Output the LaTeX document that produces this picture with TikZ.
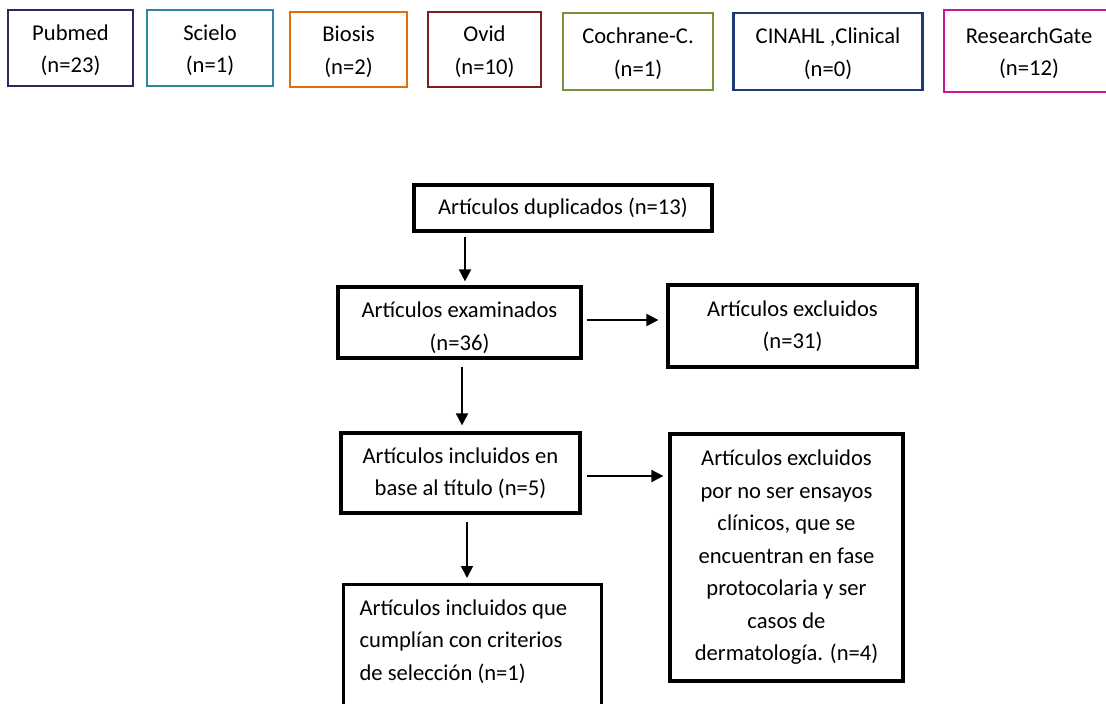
\documentclass[tikz,border=0pt]{standalone}
\usepackage{fontspec}
\setmainfont{Carlito}
\usetikzlibrary{arrows.meta}
\definecolor{pubcol}{HTML}{3B2160}
\definecolor{sciecol}{HTML}{31859C}
\definecolor{biocol}{HTML}{E46C0A}
\definecolor{ovidcol}{HTML}{7A1E1E}
\definecolor{cochcol}{HTML}{77933C}
\definecolor{cinacol}{HTML}{1F3B73}
\definecolor{rgcol}{HTML}{C8169B}
\tikzset{source node/.style={rectangle,draw,line width=2.8pt,align=center,inner sep=0pt,minimum height=76pt,text height=53pt},
         flow node/.style={rectangle,draw=black,line width=3.2pt,align=center,inner sep=0pt},
         flow arrow/.style={line width=1.8pt,-{Triangle[length=12pt,width=12pt]}},
            }

\begin{document}
\begin{tikzpicture}[x=1pt,y=-1pt,font=\fontsize{22.6}{32.5}\selectfont]
    \useasboundingbox (0,0) rectangle (1106,704);
    \clip (0,0) rectangle (1106,704);

    % bases de datos
    \node[source node,draw=pubcol,minimum width=125pt] (pubmed) at (70.5,48) {Pubmed\\(n=23)};
    \node[source node,draw=sciecol,minimum width=126pt] (scielo) at (210,48) {Scielo\\(n=1)};
    \node[source node,draw=biocol,minimum width=117pt,minimum height=75pt] (biosis) at (348.5,49.5) {Biosis\\(n=2)};
    \node[source node,draw=ovidcol,minimum width=113pt,minimum height=75pt] (ovid) at (484.5,49.5) {Ovid\\(n=10)};
    \node[source node,draw=cochcol,minimum width=150pt,minimum height=77pt] (cochrane) at (638,51.5) {Cochrane-C.\\(n=1)};
    \node[source node,draw=cinacol,minimum width=189pt,minimum height=77pt] (cinahl) at (828,51.5) {CINAHL ,Clinical\\(n=0)};
    \node[source node,draw=rgcol,minimum width=170pt,minimum height=82pt] (rgate) at (1029,51) {ResearchGate\\(n=12)};

    % diagrama de flujo
    \node[flow node,minimum width=298pt,minimum height=46pt] (dup) at (563,208) {Artículos duplicados (n=13)};
    \node[flow node,minimum width=243pt,minimum height=71pt,text height=59pt] (exam) at (459.5,322.5) {Artículos examinados\\(n=36)};
    \node[flow node,minimum width=249pt,minimum height=82pt] (excl) at (792.5,326) {Artículos excluidos\\(n=31)};
    \node[flow node,minimum width=239pt,minimum height=80pt] (incl) at (460.5,473) {Artículos incluidos en\\base al título (n=5)};
    \node[flow node,minimum width=233pt,minimum height=247pt] (exclb) at (786.5,557.5) {Artículos excluidos\\por no ser ensayos\\clínicos, que se\\encuentran en fase\\protocolaria y ser\\casos de\\dermatología. (n=4)};
    \node[flow node,anchor=north west,align=flush left,text width=226pt,inner xsep=16pt,inner ysep=15pt] (crit) at (342,583)
        {Artículos incluidos que\\cumplían con criterios\\de selección (n=1)\\~\\~};

    \draw[flow arrow,shorten <=4pt,shorten >=4pt] ([xshift=5.5pt]exam.north |- dup.south) -- ([xshift=5.5pt]exam.north);
    \draw[flow arrow,shorten <=4pt,shorten >=8pt] ([yshift=2.5pt]exam.east) -- ([yshift=2.5pt]exam.east -| excl.west);
    \draw[flow arrow,shorten <=7pt,shorten >=6pt] ([xshift=2.5pt]exam.south) -- ([xshift=2.5pt]exam.south |- incl.north);
    \draw[flow arrow,shorten <=5pt,shorten >=5pt] ([yshift=-3pt]incl.east) -- ([yshift=-3pt]incl.east -| exclb.west);
    \draw[flow arrow,shorten <=7pt,shorten >=5pt] ([xshift=6.5pt]incl.south) -- ([xshift=6.5pt]incl.south |- crit.north);

\end{tikzpicture}
\end{document}
